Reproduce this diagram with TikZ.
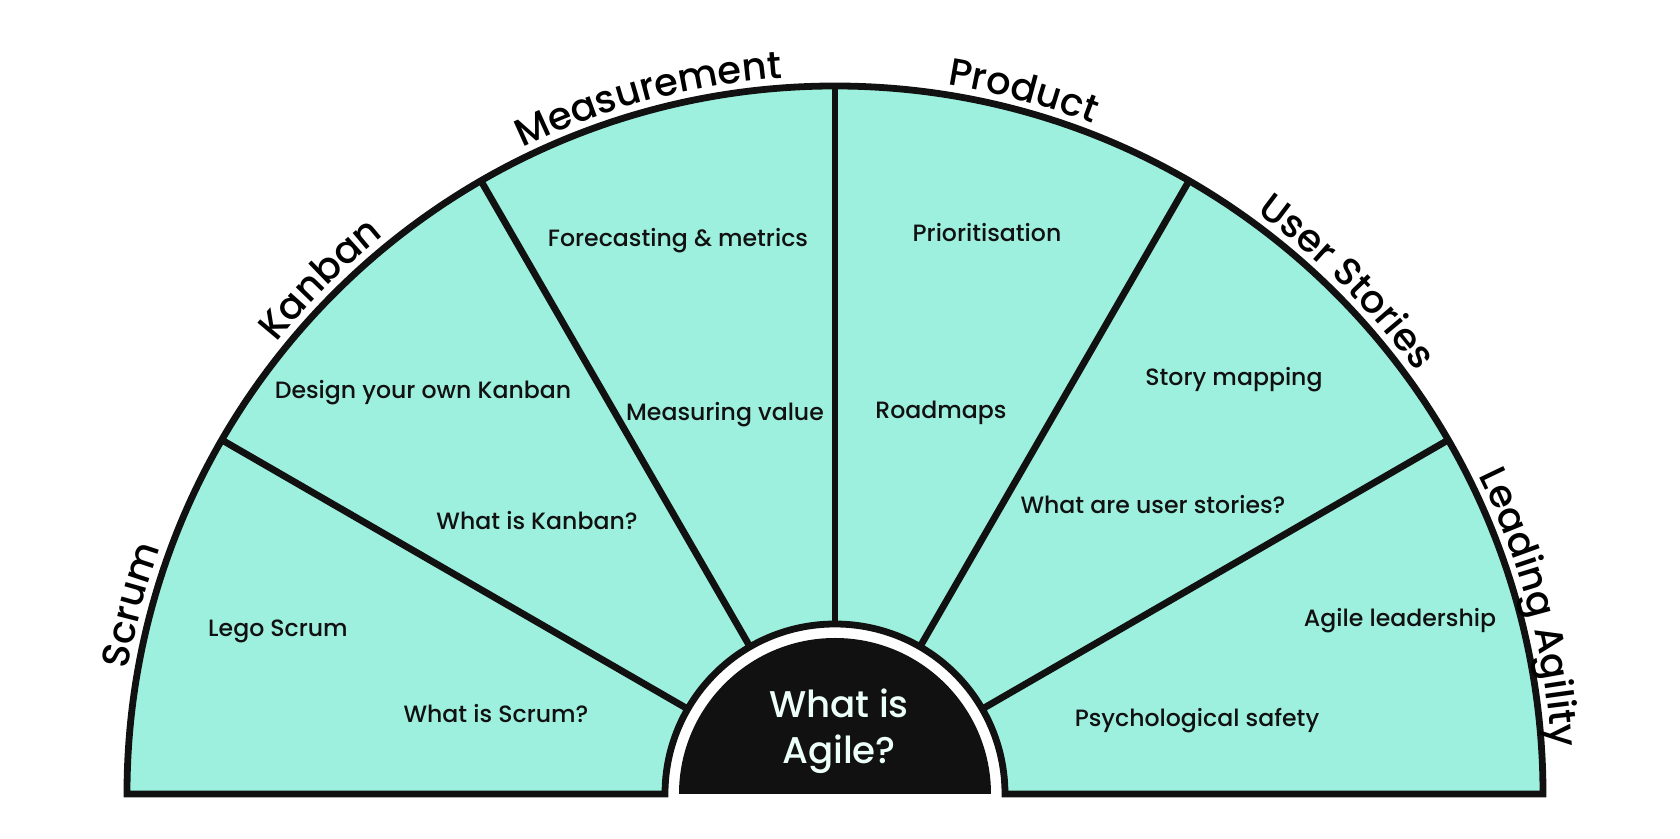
\documentclass[tikz,border=0pt]{standalone}
\usepackage{fontspec}
\setmainfont{Poppins}
\newfontfamily\medfont{Poppins Medium}
\usetikzlibrary{decorations.text}
\definecolor{mint}{RGB}{158,240,222}
\definecolor{ink}{RGB}{17,17,17}
\definecolor{paper}{RGB}{236,255,249}
\newcommand{\catfont}{\medfont\fontsize{19.2}{24}\selectfont}

\begin{document}
\begin{tikzpicture}[x=0.5pt,y=0.5pt,
  line join=miter,
  rim/.style={draw=ink, line width=3.4pt},
  topic/.style={font=\medfont\fontsize{11.8}{14}\selectfont, text=ink, anchor=base, inner sep=0pt},
  arclabel/.style={decorate, decoration={text along path, text align=center, text={#1}}},
]
\useasboundingbox (-835,-45) rectangle (845,794);
\coordinate (O) at (0,0);

% mint band between the hub ring and the outer rim
\fill[mint] (180:708) arc[start angle=180, end angle=0, radius=708]
  -- (0:170) arc[start angle=0, end angle=180, radius=170] -- cycle;

% six equal sectors
\foreach \a in {30,60,...,150} \draw[rim] (\a:170) -- (\a:708);

% outline of the band
\draw[rim] (180:170) -- (180:708) arc[start angle=180, end angle=0, radius=708]
  -- (0:170) arc[start angle=0, end angle=180, radius=170] -- cycle;

% dark hub
\fill[ink] (-156,0) arc[start angle=180, end angle=0, radius=156] -- cycle;
\node[align=center, text=paper, font=\medfont\fontsize{18.6}{23}\selectfont, anchor=base, inner sep=0pt]
  (core) at (4,30) {What is\\Agile?};

% topics inside each sector
\node[topic] (lego)   at (-557,157) {Lego Scrum};
\node[topic] (wscrum) at (-339,71)  {What is Scrum?};
\node[topic] (design) at (-412,395) {Design your own Kanban};
\node[topic] (wkan)   at (-298,264) {What is Kanban?};
\node[topic] (fore)   at (-157,547) {Forecasting \& metrics};
\node[topic] (mval)   at (-110,373) {Measuring value};
\node[topic] (prio)   at (152,552)  {Prioritisation};
\node[topic] (road)   at (106,375)  {Roadmaps};
\node[topic] (smap)   at (399,408)  {Story mapping};
\node[topic] (wus)    at (318,280)  {What are user stories?};
\node[topic] (alead)  at (565,167)  {Agile leadership};
\node[topic] (psych)  at (362,67)   {Psychological safety};

% curved sector titles just outside the rim
\path[arclabel={|\catfont|Scrum}] (210:718) arc[start angle=210, end angle=120, radius=718];
\path[arclabel={|\catfont|Kanban}] (180:718) arc[start angle=180, end angle=90, radius=718];
\path[arclabel={|\catfont|Measurement}] (150:718) arc[start angle=150, end angle=60, radius=718];
\path[arclabel={|\catfont|Product}] (120:718) arc[start angle=120, end angle=30, radius=718];
\path[arclabel={|\catfont|User Stories}] (90:718) arc[start angle=90, end angle=0, radius=718];
\path[arclabel={|\catfont|Leading Agility}] (60:718) arc[start angle=60, end angle=-30, radius=718];
\end{tikzpicture}
\end{document}
